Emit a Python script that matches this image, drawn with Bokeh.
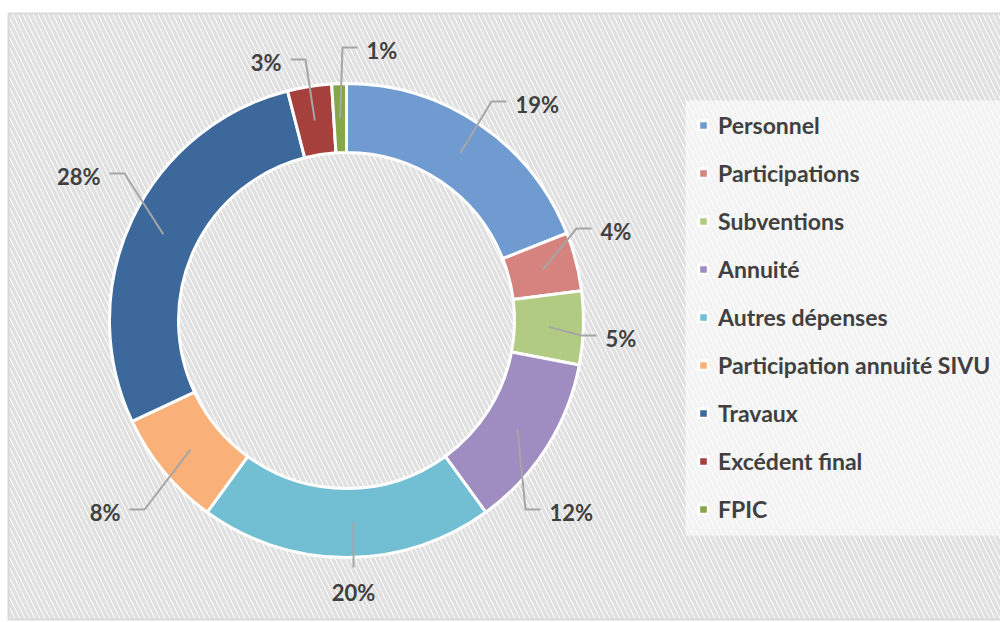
import math
from bokeh.plotting import figure
from bokeh.models import ColumnDataSource, Legend, LegendItem, Range1d
from bokeh.core.properties import value
from bokeh.embed import file_html
from bokeh.resources import INLINE

# ---------------- data ----------------
categories = ["Personnel", "Participations", "Subventions", "Annuité",
              "Autres dépenses", "Participation annuité SIVU", "Travaux",
              "Excédent final", "FPIC"]
values = [19, 4, 5, 12, 20, 8, 28, 3, 1]
colors = ["#6f9bd1", "#d6837f", "#b2cb82", "#9f8cc1", "#72bfd4",
          "#f9b079", "#3d689c", "#a5403d", "#86a64a"]

# ---------------- layout ----------------
W, H = 1000, 622
CX, CY = 346, H - 320
R_OUT, R_IN = 237, 168
R_MID = (R_OUT + R_IN) / 2
# label anchor (px from left, px from top, side): +1 text to the right of leader,
# -1 text to the left, 0 text below
label_layout = [(515, 104, 1), (600, 231, 1), (605, 338, 1), (549, 512, 1),
                (353, 592, 0), (120, 512, -1), (100, 176, -1), (281, 62, -1),
                (366, 50, 1)]

total = float(sum(values))
starts, ends, mids = [], [], []
cum = 0.0
for v in values:
    s = math.pi / 2 - cum / total * 2 * math.pi
    cum += v
    e = math.pi / 2 - cum / total * 2 * math.pi
    starts.append(s)
    ends.append(e)
    mids.append((s + e) / 2)

labels = [f"{round(v / total * 100)}%" for v in values]

p = figure(width=W, height=H, x_range=Range1d(0, W), y_range=Range1d(0, H),
           x_axis_type=None, y_axis_type=None, toolbar_location=None,
           output_backend="svg", min_border=0, outline_line_color=None,
           background_fill_color="white", border_fill_color="white")
p.grid.visible = False

# hatched chart area
p.quad(left=8, right=W + 20, top=H - 13, bottom=H - 619,
       fill_color="white", line_color="#d9d9d9", line_width=2,
       hatch_pattern="\\", hatch_color="#e0e0e0", hatch_weight=3.5, hatch_scale=10)

# legend backdrop (semi-transparent white)
p.quad(left=685, right=W + 20, top=H - 100, bottom=H - 535,
       fill_color="white", fill_alpha=0.6, line_color=None)

src = ColumnDataSource(dict(cat=categories, val=values, color=colors,
                            start=starts, end=ends))
wedges = p.annular_wedge(x=CX, y=CY, inner_radius=R_IN, outer_radius=R_OUT,
                         start_angle="start", end_angle="end", direction="clock",
                         fill_color="color", line_color="white", line_width=3,
                         source=src)

# leader lines
xs, ys = [], []
for m, (lx, ly, side) in zip(mids, label_layout):
    sx = CX + R_MID * math.cos(m)
    sy = CY + R_MID * math.sin(m)
    if side == 0:
        xs.append([lx, lx])
        ys.append([CY - R_MID + 1, H - (ly - 25)])
    else:
        ex = lx - 9 * side
        ey = H - (ly - 3)
        kx = ex - 15 * side
        xs.append([sx, kx, ex])
        ys.append([sy, ey, ey])
p.multi_line(xs=xs, ys=ys, line_color="#a6a6a6", line_width=2)

# percentage labels
for align, sd in (("left", 1), ("right", -1), ("center", 0)):
    idx = [i for i, l in enumerate(label_layout) if l[2] == sd]
    if not idx:
        continue
    p.text(x=[label_layout[i][0] for i in idx],
           y=[H - label_layout[i][1] for i in idx],
           text=[labels[i] for i in idx],
           text_align=align, text_baseline="middle",
           text_font=value("Lato"), text_font_style="bold",
           text_font_size="22px", text_color="#404040")

items = [LegendItem(label=c, renderers=[wedges], index=i)
         for i, c in enumerate(categories)]
legend = Legend(items=items, location=(697, 99), orientation="vertical",
                padding=16, spacing=20, margin=0,
                label_height=26, glyph_height=12, glyph_width=12,
                label_standoff=9,
                label_text_font="Lato", label_text_font_style="bold",
                label_text_font_size="23px", label_text_color="#404040",
                background_fill_alpha=0, border_line_color=None)
p.add_layout(legend)

open("out.html", "w").write(file_html(p, INLINE))
